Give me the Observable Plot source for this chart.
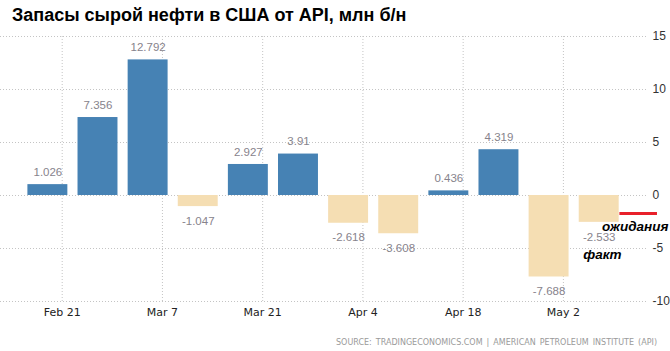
<!DOCTYPE html>
<html><head><meta charset="utf-8">
<script src="https://cdn.jsdelivr.net/npm/d3@7"></script>
<script src="https://cdn.jsdelivr.net/npm/@observablehq/plot@0.6"></script>
<style>
body{margin:0;background:#fff;}
#wrap{position:relative;width:670px;height:351px;overflow:hidden;}
#title{position:absolute;left:12px;top:5px;font:bold 18px "Liberation Sans",Arial,sans-serif;color:#000;white-space:nowrap;}
#source{position:absolute;right:13px;top:338px;font:8px "DejaVu Sans",sans-serif;color:#9a9a9a;white-space:nowrap;word-spacing:1.5px;}
#chart svg{display:block;}
</style></head>
<body><div id="wrap"><div id="chart"></div><div id="title">Запасы сырой нефти в США от API, млн б/н</div><div id="source">SOURCE: TRADINGECONOMICS.COM | AMERICAN PETROLEUM INSTITUTE (API)</div></div>
<script>
const dates = ["2021-02-19","2021-02-26","2021-03-05","2021-03-12","2021-03-19","2021-03-26","2021-04-02","2021-04-09","2021-04-16","2021-04-23","2021-04-30","2021-05-07"];
const values = [1.026, 7.356, 12.792, -1.047, 2.927, 3.91, -2.618, -3.608, 0.436, 4.319, -7.688, -2.533];
const forecast = -1.7;
const xTicks = ["2021-02-21","2021-03-07","2021-03-21","2021-04-04","2021-04-18","2021-05-02"];
const xTickLabels = ["Feb 21","Mar 7","Mar 21","Apr 4","Apr 18","May 2"];
const yTicks = [-10, -5, 0, 5, 10, 15];
const annotations = ["ожидания", "факт"];

const DAY = 864e5;
const data = dates.map((d, i) => ({date: new Date(d), value: values[i]}));
const ticks = xTicks.map((d, i) => ({date: new Date(d), label: xTickLabels[i]}));
const xDomain = [new Date("2021-02-12T09:12:00Z"), new Date("2021-05-13T21:15:00Z")];
const half = 2.79 * DAY;
const last = data[data.length - 1];
const fc = [{x1: new Date(+last.date + half + 0.1 * DAY), x2: new Date(+last.date + half + 5.35 * DAY), y: forecast}];
const pos = data.filter(d => d.value >= 0), neg = data.filter(d => d.value < 0);
const grid = {stroke: "#c4c4c4", strokeDasharray: "1,2", strokeWidth: 1};
const valFont = {fill: "#87838c", fontSize: 11.5, fontFamily: "Liberation Sans, Arial, sans-serif"};

const chart = Plot.plot({
  width: 670, height: 351,
  marginLeft: 0, marginRight: 22, marginTop: 36, marginBottom: 50,
  x: {type: "utc", domain: xDomain, axis: null},
  y: {domain: [-10, 15], axis: null},
  style: {background: "transparent"},
  marks: [
    Plot.ruleY(yTicks, {y: d => d, ...grid}),
    Plot.ruleX(ticks, {x: "date", ...grid}),
    Plot.rectY(data, {x1: d => new Date(+d.date - half), x2: d => new Date(+d.date + half), y1: 0, y2: "value", fill: d => d.value >= 0 ? "#4682b4" : "#f5deb3"}),
    Plot.ruleY(fc, {x1: "x1", x2: "x2", y: "y", stroke: "#e8202a", strokeWidth: 3}),
    Plot.text(pos, {x: "date", y: "value", text: d => String(d.value), dy: -12.5, ...valFont}),
    Plot.text(neg, {x: "date", y: "value", text: d => String(d.value), dy: 14.5, ...valFont}),
    Plot.text(yTicks, {x: () => xDomain[1], y: d => d, text: d => String(d), textAnchor: "start", dx: 4, fill: "#333", fontSize: 12, fontFamily: "Liberation Sans, Arial, sans-serif"}),
    Plot.text(ticks, {x: "date", y: () => -10, text: "label", dy: 11, fill: "#222", fontSize: 11, fontFamily: "DejaVu Sans, sans-serif"}),
    Plot.text([annotations[0]], {x: () => fc[0].x2, y: () => forecast, text: d => d, textAnchor: "end", dx: 11, dy: 13, fill: "#000", fontSize: 13.5, fontWeight: "bold", fontStyle: "italic", fontFamily: "Liberation Sans, Arial, sans-serif"}),
    Plot.text([annotations[1]], {x: () => last.date, y: () => last.value, text: d => d, textAnchor: "start", dx: -16, dy: 32, fill: "#000", fontSize: 13.5, fontWeight: "bold", fontStyle: "italic", fontFamily: "Liberation Sans, Arial, sans-serif"})
  ]
});
document.getElementById("chart").appendChild(chart);
</script>
</body></html>
